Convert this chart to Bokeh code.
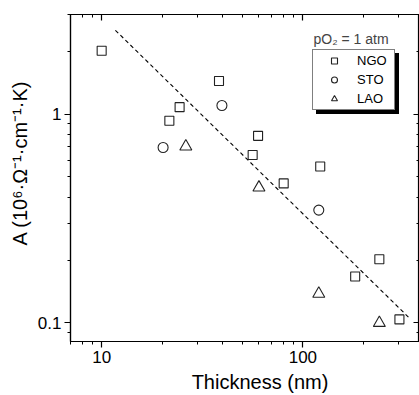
import math
from bokeh.plotting import figure
from bokeh.models import (FixedTicker, LogAxis, Label, Legend, LegendItem,
                          Range1d, CustomJSTickFormatter)
from bokeh.embed import file_html
from bokeh.resources import INLINE

# ---- data ----
ngo_x = [10, 21.7, 24.4, 38.3, 56.3, 59.9, 80.3, 122, 182, 240, 302]
ngo_y = [2.01, 0.93, 1.08, 1.44, 0.637, 0.787, 0.466, 0.561, 0.167, 0.202, 0.104]
sto_x = [20.2, 39.6, 120]
sto_y = [0.692, 1.10, 0.347]
lao_x = [26.2, 60.5, 120, 240]
lao_y = [0.70, 0.445, 0.138, 0.100]
fit_x = [11.7, 337]
fit_y = [2.52, 0.106]

x_major = [10, 100]
x_minor = [7, 8, 9, 20, 30, 40, 50, 60, 70, 80, 90, 200, 300, 400]
y_major = [0.1, 1]
y_minor = [0.08, 0.09, 0.2, 0.3, 0.4, 0.5, 0.6, 0.7, 0.8, 0.9, 2, 3]
legend_labels = ["NGO", "STO", "LAO"]

FONT = "Liberation Sans"

p = figure(width=419, height=395, x_axis_type="log", y_axis_type="log",
           x_range=Range1d(7, 380), y_range=Range1d(0.0815, 3.0),
           output_backend="svg", toolbar_location=None,
           min_border_left=70, min_border_right=0, min_border_top=14, min_border_bottom=54)
p.background_fill_color = "white"
p.border_fill_color = "white"
p.outline_line_color = "black"
p.outline_line_width = 1.2
p.xgrid.visible = False
p.ygrid.visible = False

num_fmt = CustomJSTickFormatter(code="return String(Math.round(tick * 1000) / 1000);")
blank_fmt = CustomJSTickFormatter(code="return '';")

def style(ax, ticks, minors, inward, show_labels):
    ax.ticker = FixedTicker(ticks=ticks, minor_ticks=minors)
    ax.axis_line_color = "black"
    ax.axis_line_width = 1.2
    ax.major_tick_line_color = "black"
    ax.minor_tick_line_color = "black"
    ax.major_tick_line_width = 1.2
    ax.minor_tick_line_width = 1.0
    if inward:
        ax.major_tick_in, ax.major_tick_out = 6, 0
        ax.minor_tick_in, ax.minor_tick_out = 3, 0
    else:
        ax.major_tick_in, ax.major_tick_out = 0, 6
        ax.minor_tick_in, ax.minor_tick_out = 0, 3
    ax.major_label_text_font = FONT
    ax.major_label_text_font_size = "17px"
    ax.major_label_text_color = "black"
    ax.major_label_standoff = 3
    ax.formatter = num_fmt if show_labels else blank_fmt
    ax.axis_label_text_font = FONT
    ax.axis_label_text_font_style = "normal"
    ax.axis_label_text_font_size = "20px"
    ax.axis_label_text_color = "black"
    if not show_labels:
        ax.major_label_standoff = 0
        ax.axis_label_standoff = 0
        ax.major_label_text_font_size = "1px"

style(p.xaxis[0], x_major, x_minor, False, True)
style(p.yaxis[0], y_major, y_minor, False, True)
# en/em spaces shift the centred titles toward where the reference puts them
p.xaxis[0].axis_label = "\u2003\u2002Thickness (nm)"
p.xaxis[0].axis_label_standoff = 5
p.yaxis[0].axis_label = "\u2003\u2002A (10\u2076\u00b7\u03a9\u207b\u00b9\u00b7cm\u207b\u00b9\u00b7K)"
p.yaxis[0].axis_label_standoff = 4

top = LogAxis()
style(top, x_major, x_minor, True, False)
p.add_layout(top, "above")
right = LogAxis()
style(right, y_major, y_minor, True, False)
p.add_layout(right, "right")

# fit line
p.line(fit_x, fit_y, line_color="black", line_width=1.1, line_dash="4 3")

mk = dict(fill_color=None, line_color="#222222", line_width=1.1)
r_ngo = p.scatter(ngo_x, ngo_y, marker="square", size=9, **mk)
r_sto = p.scatter(sto_x, sto_y, marker="circle", size=10, **mk)
r_lao = p.scatter(lao_x, lao_y, marker="triangle", size=12, **mk)

rends = [r_ngo, r_sto, r_lao]
common = dict(padding=3, spacing=4, glyph_width=36, glyph_height=15, label_height=15,
              label_width=34, label_standoff=5, margin=0,
              label_text_font=FONT, label_text_font_size="13px")

# drop shadow: a same-sized legend filled black, offset down-right, without texts
shadow = Legend(items=[LegendItem(label=" ", renderers=[r]) for r in rends],
                location=(246, 227), border_line_color="black",
                background_fill_color="black", background_fill_alpha=1.0,
                label_text_color="black", **common)
p.add_layout(shadow)

legend = Legend(items=[LegendItem(label=l, renderers=[r]) for l, r in zip(legend_labels, rends)],
                location=(242, 231), border_line_color="black", border_line_width=1.0,
                background_fill_color="white", background_fill_alpha=1.0,
                label_text_color="black", **common)
p.add_layout(legend)

p.add_layout(Label(x=243, y=303, x_units="screen", y_units="screen",
                   text="pO\u2082 = 1 atm", text_font=FONT, text_font_size="14px",
                   text_baseline="alphabetic"))

open("out.html", "w").write(file_html(p, INLINE))
